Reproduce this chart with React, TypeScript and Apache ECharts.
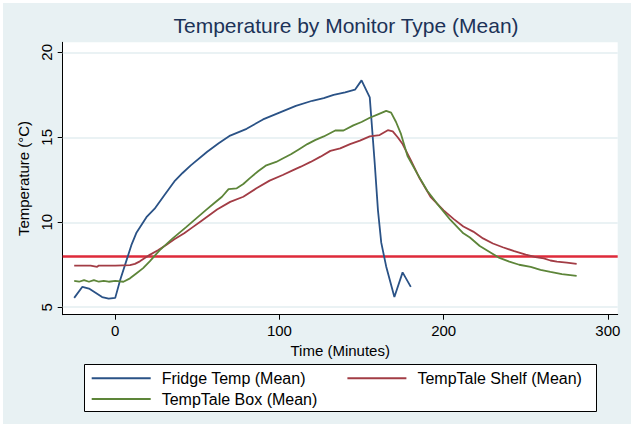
import React, { useEffect, useRef } from "react";
import * as echarts from "echarts";

const FONT = "'Liberation Sans', Arial, Helvetica, sans-serif";

const titleText = "Temperature by Monitor Type (Mean)";
const xAxisTitle = "Time (Minutes)";
const yAxisTitle = "Temperature (°C)";
const xTicks = [0, 100, 200, 300];
const yTicks = [5, 10, 15, 20];
const thresholdValue = 8;

const seriesNames = ["Fridge Temp (Mean)", "TempTale Shelf (Mean)", "TempTale Box (Mean)"];

const fridgeTime = [-25, -20, -16, -12, -8, -4, 0, 3, 7, 10, 13, 19, 24, 30, 36, 41, 46, 56, 63, 70, 80, 90, 100, 110, 120, 127, 133, 140, 146, 150, 155, 158, 160, 162, 165, 170, 175, 180];
const fridgeTemp = [5.55, 6.2, 6.1, 5.85, 5.6, 5.5, 5.55, 6.6, 7.8, 8.7, 9.4, 10.3, 10.8, 11.6, 12.4, 12.9, 13.35, 14.15, 14.65, 15.1, 15.5, 16.05, 16.45, 16.85, 17.15, 17.3, 17.5, 17.65, 17.8, 18.35, 17.35, 13.5, 10.7, 8.8, 7.4, 5.6, 7.05, 6.2];

const shelfTime = [-25, -15, -11, -10, 0, 9, 12, 15, 18, 21, 26, 31, 36, 42, 47, 52, 57, 62, 70, 78, 86, 94, 102, 108, 113, 119, 125, 131, 137, 143, 149, 155, 161, 166, 169, 172, 175, 180, 185, 192, 200, 206, 212, 218, 224, 230, 236, 243, 250, 256, 261, 265, 269, 275, 281];
const shelfTemp = [7.45, 7.45, 7.38, 7.45, 7.45, 7.48, 7.55, 7.7, 7.9, 8.08, 8.35, 8.66, 9.0, 9.35, 9.7, 10.05, 10.4, 10.75, 11.2, 11.5, 12.0, 12.45, 12.78, 13.05, 13.27, 13.55, 13.86, 14.2, 14.35, 14.6, 14.8, 15.05, 15.13, 15.42, 15.35, 15.0, 14.6, 13.65, 12.65, 11.5, 10.7, 10.2, 9.75, 9.45, 9.05, 8.75, 8.53, 8.3, 8.1, 7.95, 7.88, 7.75, 7.68, 7.62, 7.55];

const boxTime = [-25, -22, -19, -16, -13, -10, -7, -4, 0, 5, 9, 13, 17, 21, 27, 35, 43, 49, 55, 60, 65, 69, 74, 78, 82, 87, 92, 98, 102, 107, 112, 117, 122, 127, 134, 139, 145, 150, 155, 160, 165, 168, 171, 174, 178, 184, 190, 196, 204, 212, 216, 222, 228, 234, 240, 246, 253, 259, 265, 272, 281];
const boxTemp = [6.55, 6.5, 6.6, 6.5, 6.6, 6.5, 6.55, 6.5, 6.55, 6.5, 6.7, 7.0, 7.3, 7.7, 8.35, 9.05, 9.7, 10.2, 10.7, 11.1, 11.5, 11.95, 12.0, 12.25, 12.6, 13.0, 13.35, 13.55, 13.75, 14.0, 14.3, 14.6, 14.85, 15.05, 15.4, 15.4, 15.7, 15.9, 16.15, 16.35, 16.55, 16.45, 15.9, 15.2, 13.9, 12.85, 11.85, 11.1, 10.15, 9.35, 9.1, 8.6, 8.25, 7.9, 7.68, 7.5, 7.38, 7.2, 7.08, 6.95, 6.84];

const colors = ["#2A5286", "#A23C45", "#5D8539"];

const pairs = (t: number[], v: number[]) => t.map((x, i) => [x, v[i]]);

export default function App() {
  const ref = useRef<HTMLDivElement>(null);
  useEffect(() => {
    if (!ref.current) return;
    const chart = echarts.init(ref.current, null, { renderer: "svg" });
    const textBase = { fontFamily: FONT, color: "#000" };
    const lineSeries = (name: string, data: number[][], color: string, extra: any = {}) => ({
      name,
      type: "line",
      data,
      symbol: "none",
      showSymbol: false,
      lineStyle: { color, width: 1.8 },
      itemStyle: { color },
      z: 3,
      ...extra,
    });
    const legendItem = (name: string, left: number, top: number) => ({
      data: [name],
      left,
      top,
      padding: 0,
      icon: "rect",
      itemWidth: 59,
      itemHeight: 2,
      selectedMode: false,
      textStyle: { ...textBase, fontSize: 16, lineHeight: 16, padding: [0, 0, 0, 6] },
    });
    chart.setOption({
      animation: false,
      color: colors,
      title: {
        text: titleText,
        left: 341,
        top: 10,
        textAlign: "center",
        textStyle: { fontFamily: FONT, fontSize: 21, fontWeight: "normal", color: "#1C3358" },
      },
      graphic: [
        { type: "rect", z: -100, shape: { x: 3, y: 3, width: 628, height: 421 }, style: { fill: "#E8F1F3" } },
        { type: "rect", z: 1, shape: { x: 84.5, y: 364.5, width: 512, height: 47 }, style: { fill: "#fff", stroke: "#000", lineWidth: 1 } },
      ],
      legend: [
        legendItem(seriesNames[0], 91.7, 370.3),
        legendItem(seriesNames[1], 347.4, 370.3),
        legendItem(seriesNames[2], 91.7, 391),
      ],
      grid: {
        left: 62.7,
        right: 16.3,
        top: 42.3,
        bottom: 114.3,
        show: true,
        backgroundColor: "#fff",
        borderWidth: 0,
      },
      xAxis: {
        type: "value",
        min: -32,
        max: 306,
        name: xAxisTitle,
        nameLocation: "middle",
        nameGap: 17,
        nameTextStyle: { ...textBase, fontSize: 15 },
        axisLine: { show: true, onZero: false, lineStyle: { color: "#000", width: 1 } },
        axisTick: { show: true, length: 5, customValues: xTicks, lineStyle: { color: "#000" } },
        axisLabel: { customValues: xTicks, margin: 8, ...textBase, fontSize: 15 },
        splitLine: { show: false },
      },
      yAxis: {
        type: "value",
        min: 4.56,
        max: 20.59,
        name: yAxisTitle,
        nameLocation: "middle",
        nameGap: 30,
        nameRotate: 90,
        nameTextStyle: { ...textBase, fontSize: 15 },
        axisLine: { show: true, onZero: false, lineStyle: { color: "#000", width: 1 } },
        axisTick: { show: true, length: 5, customValues: yTicks, lineStyle: { color: "#000" } },
        axisLabel: { customValues: yTicks, margin: 9, rotate: 90, ...textBase, fontSize: 15 },
        splitLine: { show: false },
      },
      series: [
        lineSeries(seriesNames[0], pairs(fridgeTime, fridgeTemp), colors[0], {
          markLine: {
            silent: true,
            symbol: "none",
            label: { show: false },
            lineStyle: { color: "#DE2A3A", width: 2.6, type: "solid" },
            data: [{ yAxis: thresholdValue }],
            z: 2,
          },
        }),
        lineSeries(seriesNames[1], pairs(shelfTime, shelfTemp), colors[1], {
          markLine: {
            silent: true,
            symbol: "none",
            label: { show: false },
            lineStyle: { color: "#E3EEF1", width: 1.5, type: "solid" },
            data: yTicks.map((v) => ({ yAxis: v })),
            z: 1,
          },
        }),
        lineSeries(seriesNames[2], pairs(boxTime, boxTemp), colors[2]),
      ],
    });
    return () => chart.dispose();
  }, []);
  return (
    <div style={{ position: "fixed", left: 0, top: 0, width: 634, height: 429, background: "#fff" }}>
      <div ref={ref} style={{ width: 634, height: 429 }} />
    </div>
  );
}
